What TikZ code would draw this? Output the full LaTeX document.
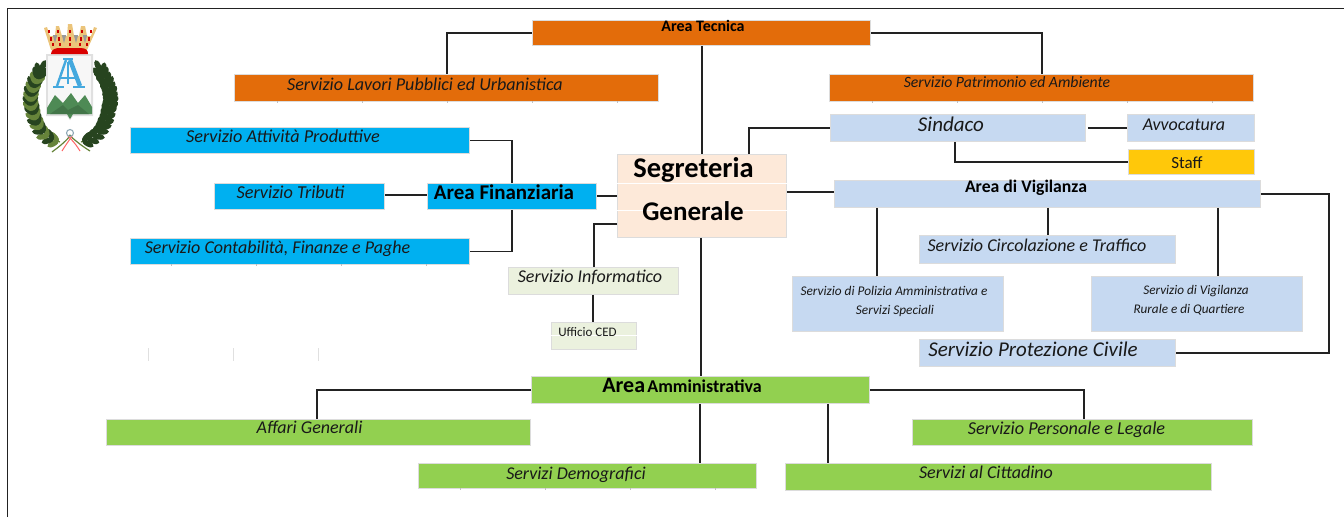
\documentclass[tikz,border=0pt]{standalone}
\usepackage{fontspec}
\setmainfont{Carlito}
\newcommand{\fz}[1]{\fontsize{#1}{#1}\selectfont}
\definecolor{cOrange}{HTML}{E36C0A}
\definecolor{cBlue}{HTML}{00B0F0}
\definecolor{cLight}{HTML}{C6D9F1}
\definecolor{cYellow}{HTML}{FFC80A}
\definecolor{cGreen}{HTML}{92D050}
\definecolor{cPeach}{HTML}{FDE9D9}
\definecolor{cPale}{HTML}{EBF1DE}
\definecolor{cLine}{HTML}{222222}
\definecolor{cEdge}{HTML}{DCDCDC}
\definecolor{cLeafA}{HTML}{27441F}
\definecolor{cLeafB}{HTML}{66843A}
\definecolor{cGold}{HTML}{EBC47A}
\definecolor{cAzure}{HTML}{45A9DE}
\definecolor{cMount}{HTML}{4E8A55}
\tikzset{
  boxnode/.style={draw=cEdge,line width=0.9pt,inner sep=0pt},
  lab/.style={inner sep=0pt,text=black!90,font=\itshape\fz{#1}},
  labup/.style={inner sep=0pt,text=black!90,font=\fz{#1}},
  labb/.style={inner sep=0pt,text=black,font=\bfseries\fz{#1}},
  conn/.style={draw=cLine,line width=1.6pt,line join=miter},
  frameline/.style={draw=cLine,line width=1.7pt},
  tick/.style={draw=black!25,line width=0.5pt},
  faint/.style={draw=black!12,line width=0.7pt},
}
% name, x1, y1, x2, y2, fill
\newcommand{\bx}[6]{\node[boxnode,fill=#6,minimum width=#4pt-#2pt,minimum height=#5pt-#3pt,anchor=north west] (#1) at (#2,#3) {};}
\newcommand{\leaf}[4]{\fill[#4,rotate around={#3:(#1,#2)}] (#1,#2) ellipse (6.4pt and 2.9pt);}
\begin{document}
\begin{tikzpicture}[x=1pt,y=-1pt]
\useasboundingbox (0,0) rectangle (1344,517);
\fill[white] (0,0) rectangle (1344,517);
% frame
\draw[frameline] (7.5,517) -- (7.5,8.5) -- (1344,8.5);
% crest: wreath stems
\draw[cLeafB,line width=1.2pt] (60,142) .. controls (38,134) and (24,104) .. (40,70);
\draw[cLeafB,line width=1.2pt] (81,142) .. controls (103,134) and (117,104) .. (101,70);
% crest: wreath leaves
\foreach \x/\y/\t/\c in {58/141/170/cLeafB,53/139/160/cLeafA,48/136/150/cLeafB,44/132/140/cLeafA,41/128/130/cLeafB,38/124/122/cLeafA,36/119/115/cLeafB,34/114/107/cLeafA,32/110/100/cLeafB,31/105/95/cLeafA,31/101/90/cLeafB,31/96/85/cLeafA,32/92/80/cLeafB,33/87/75/cLeafA,35/83/70/cLeafB,37/78/67/cLeafA,39/74/65/cLeafA}{
  \foreach \s in {-38,38}{
    \pgfmathsetmacro{\aa}{\t+\s}
    \pgfmathsetmacro{\lx}{\x+5.5*cos(\aa)}
    \pgfmathsetmacro{\ly}{\y-5.5*sin(\aa)}
    \leaf{\lx}{\ly}{\aa}{\c}
    \pgfmathsetmacro{\mx}{141-\lx}
    \pgfmathsetmacro{\ma}{180-\aa}
    \leaf{\mx}{\ly}{\ma}{cLeafA}
  }
}
\leaf{43}{66}{65}{cLeafA}
\leaf{98}{66}{115}{cLeafA}
% crest: ribbon
\draw[cLeafB,line width=1.2pt] (52,152) .. controls (60,146) and (65,142) .. (71,135);
\draw[cLeafB,line width=1.2pt] (90,151) .. controls (82,146) and (77,142) .. (69,135);
\draw[red!60,line width=1pt] (62,151) .. controls (65,146) and (68,142) .. (72,136);
\draw[red!60,line width=1pt] (80,151) .. controls (77,146) and (74,142) .. (68,136);
\draw[cAzure!50!black!50,line width=1.1pt] (70,133) circle (3.5pt);
% crest: shield
\fill[black!12] (46,54) -- (93,54) -- (93,116) -- (73,116) -- (70,120) -- (67,116) -- (46,116) -- cycle;
\fill[black!3] (48,56) rectangle (91,114);
\fill[cMount] (47,114) -- (47,108) -- (55,95) -- (63,103) -- (71,93) -- (78,103) -- (85,95) -- (92,107) -- (92,114) -- (73,114) -- (70,119) -- (67,114) -- cycle;
\fill[cMount!85!black] (50,114) -- (63,105) -- (68,110) -- (78,105) -- (89,114) -- cycle;
% crest: letter
\draw[cAzure,line width=4.4pt] (70,60) -- (80,86);
\draw[cAzure,line width=2.4pt] (66,60) -- (57,86);
\draw[cAzure,line width=2.6pt] (63,59) -- (73,59);
\draw[cAzure,line width=2.6pt] (53,87) -- (64,87);
\draw[cAzure,line width=2.6pt] (73,87) -- (85,87);
\draw[cAzure,line width=2.2pt] (60,78) -- (76,78);
\draw[cAzure,line width=1.8pt] (68,62) -- (68,84);
% crest: crown
\fill[cGold] (44,28) -- (47,27) -- (50,36) -- (55,36) -- (56,26) -- (59,26) -- (62,36) -- (67,36) -- (68,24) -- (72,24) -- (74,36) -- (79,36) -- (81,26) -- (85,26) -- (87,36) -- (91,36) -- (94,27) -- (97,28) -- (87,50) -- (51,50) -- cycle;
\fill[red!85!black] (51,54) .. controls (51,49) and (56,48) .. (60,48) -- (80,48) .. controls (86,48) and (88,50) .. (88,54) -- cycle;
\foreach \x/\dx in {49/1,58/0.5,70/0,82/-0.5,91/-1}{
  \fill[red!80!black] (\x-0.9,30) rectangle (\x+0.9,33);
  \fill[red!80!black] (\x+\dx*2-0.9,37) rectangle (\x+\dx*2+0.9,41);
  \fill[red!80!black] (\x+\dx*4-0.9,43) rectangle (\x+\dx*4+0.9,46);
}
\foreach \x in {55,64,76,85}{\fill[black!40] (\x-2.2,35) -- (\x+2.2,35) -- (\x,43) -- cycle;}
% boxes
\bx{tec}{532}{20}{870}{45}{cOrange}
\bx{lav}{234}{74}{658}{101}{cOrange}
\bx{pat}{829}{74}{1253}{101}{cOrange}
\bx{sin}{830}{114}{1085}{141}{cLight}
\bx{avv}{1127}{114}{1254}{141}{cLight}
\bx{sta}{1128}{149}{1254}{174}{cYellow}
\bx{vig}{834}{180}{1260}{207}{cLight}
\bx{cir}{919}{235}{1175}{263}{cLight}
\bx{pol}{792}{276}{1003}{331}{cLight}
\bx{rur}{1091}{276}{1302}{331}{cLight}
\bx{pro}{919}{339}{1175}{366}{cLight}
\bx{seg}{617}{154}{786}{237}{cPeach}
\bx{fin}{427}{183}{596}{209}{cBlue}
\bx{att}{130}{127}{469}{153}{cBlue}
\bx{tri}{214}{183}{384}{209}{cBlue}
\bx{con}{130}{238}{469}{264}{cBlue}
\bx{inf}{508}{267}{678}{294}{cPale}
\bx{ced}{551}{322}{636}{349}{cPale}
\bx{amm}{531}{376}{869}{403}{cGreen}
\bx{aff}{106}{419}{530}{445}{cGreen}
\bx{per}{912}{419}{1252}{445}{cGreen}
\bx{dem}{418}{463}{756}{488}{cGreen}
\bx{cit}{785}{463}{1211}{490}{cGreen}
% inner white bands
\draw[white,line width=1pt] (seg.west |- 0,183) -- (seg.east |- 0,183);
\draw[white,line width=1pt] (seg.west |- 0,210) -- (seg.east |- 0,210);
\draw[white,line width=0.8pt] (ced.west |- 0,335) -- (ced.east |- 0,335);
% faint marks
\foreach \x in {277,362,447,532,617}{\draw[tick] (\x,101) -- (\x,103);}
\foreach \x in {872,957,1042,1127,1212}{\draw[tick] (\x,101) -- (\x,103);}
\foreach \x in {171,256,341,426}{\draw[tick] (\x,264) -- (\x,266);}
\foreach \x in {460,545,630,715}{\draw[tick] (\x,488) -- (\x,490);}
\foreach \x in {148,233,318}{\draw[faint] (\x,348) -- (\x,361);}
% connectors
\draw[conn] (tec.west) -| (447,0 |- lav.north);
\draw[conn] (tec.east) -| (1042,0 |- pat.north);
\draw[conn] (702,0 |- tec.south) -- (702,0 |- seg.north);
\draw[conn] (749,0 |- seg.north) |- (sin.west);
\draw[conn] (sin.east) ++(2,0) -- (avv.west);
\draw[conn] (955,0 |- sin.south) |- (sta.west);
\draw[conn] (seg.east |- 0,192) -- (vig.west |- 0,192);
\draw[conn] (877,0 |- vig.south) -- (877,0 |- pol.north);
\draw[conn] (1048,0 |- vig.south) -- (1048,0 |- cir.north);
\draw[conn] (1218,0 |- vig.south) -- (1218,0 |- rur.north);
\draw[conn] (vig.east) -- (1329,0 |- vig.east) -- (1329,0 |- pro.east) -- (pro.east);
\draw[conn] (seg.west |- 0,196) -- (fin.east |- 0,196);
\draw[conn] (512,0 |- fin.north) |- (att.east);
\draw[conn] (512,0 |- fin.south) |- (con.east);
\draw[conn] (tri.east |- 0,195) -- (fin.west |- 0,195);
\draw[conn] (seg.west |- 0,224) -| (594,0 |- inf.north);
\draw[conn] (593,0 |- inf.south) -- (593,0 |- ced.north);
\draw[conn] (701,0 |- seg.south) -- (701,0 |- amm.north);
\draw[conn] (amm.west) -| (317,0 |- aff.north);
\draw[conn] (amm.east) -| (1084,0 |- per.north);
\draw[conn] (700,0 |- amm.south) -- (700,0 |- dem.north);
\draw[conn] (828,0 |- amm.south) -- (828,0 |- cit.north);
% labels
\node[labb=16] (ltec) at (703,26) {Area Tecnica};
\node[lab=18.1] (llav) at (425,84.5) {Servizio Lavori Pubblici ed Urbanistica};
\node[lab=15.7] (lpat) at (1007,82) {Servizio Patrimonio ed Ambiente};
\node[lab=21] (lsin) at (951,124) {Sindaco};
\node[lab=18] (lavv) at (1184,124.5) {Avvocatura};
\node[labup=17] (lsta) at (1187,163) {Staff};
\node[labb=17.7] (lvig) at (1026,187.5) {Area di Vigilanza};
\node[lab=18] (lcir) at (1037,245.5) {Servizio Circolazione e Traffico};
\node[lab=13.3] (lpol1) at (894,291) {Servizio di Polizia Amministrativa e};
\node[lab=13.3] (lpol2) at (895,311) {Servizi Speciali};
\node[lab=13.2] (lrur1) at (1196,291) {Servizio di Vigilanza};
\node[lab=13.2] (lrur2) at (1189,310) {Rurale e di Quartiere};
\node[lab=21] (lpro) at (1033,349) {Servizio Protezione Civile};
\node[labb=28.5] (lseg1) at (693.5,170) {Segreteria};
\node[labb=27] (lseg2) at (693,211) {Generale};
\node[labb=21] (lfin) at (504,192) {Area Finanziaria};
\node[lab=18.2] (latt) at (283,136.5) {Servizio Attività Produttive};
\node[lab=18.2] (ltri) at (290.5,192.5) {Servizio Tributi};
\node[lab=18] (lcon) at (277.5,248.5) {Servizio Contabilità, Finanze e Paghe};
\node[lab=18] (linf) at (590,277) {Servizio Informatico};
\node[labup=13] (lced) at (587.5,332.5) {Ufficio CED};
\node[inner sep=0pt,text=black] (lamm) at (682,385.5) {{\bfseries\fz{22}Area} {\bfseries\fz{18}Amministrativa}};
\node[lab=18] (laff) at (309.5,427.5) {Affari Generali};
\node[lab=18.2] (lper) at (1066.5,430) {Servizio Personale e Legale};
\node[lab=18] (ldem) at (576,475) {Servizi Demografici};
\node[lab=18] (lcit) at (986,472.5) {Servizi al Cittadino};
\end{tikzpicture}
\end{document}
